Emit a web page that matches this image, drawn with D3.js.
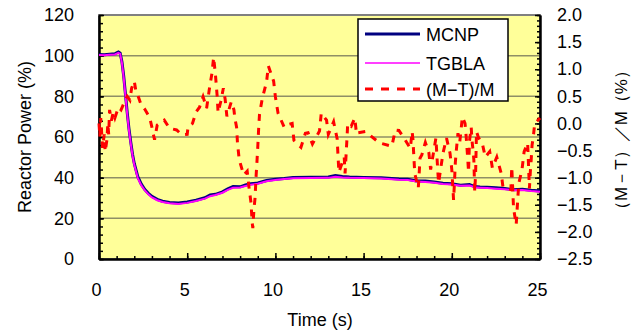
<!DOCTYPE html>
<html>
<head>
<meta charset="utf-8">
<script src="https://cdn.jsdelivr.net/npm/d3@7"></script>
<style>
body { margin: 0; background: #fff; }
svg text { font-family: "Liberation Sans", Arial, sans-serif; fill: #000; }
</style>
</head>
<body>
<div id="chart"></div>
<script>
// power curves (left axis, %)
var powerTime = [0, 0.3, 0.6, 0.9, 1.0, 1.1, 1.2, 1.3, 1.4, 1.5, 1.6, 1.7, 1.8, 1.9, 2.0, 2.2, 2.4, 2.6, 2.8, 3.0,
	3.3, 3.6, 4.0, 4.5, 5.0, 5.5, 6.0, 6.3, 6.6, 7.0, 7.3, 7.6, 8.0, 8.3, 8.6, 9.0, 9.5, 10.0, 10.5, 11.0,
	12.0, 13.0, 13.4, 13.8, 14.2, 15.0, 16.0, 17.0, 17.5, 18.0, 18.5, 19.0, 19.5, 20.0, 20.5, 21.0, 21.3, 21.6,
	22.0, 22.5, 23.0, 23.5, 24.0, 24.5, 25.0];
var mcnp = [100.6, 100.4, 100.7, 100.9, 101.4, 101.8, 101.2, 97, 90, 81, 72, 64, 57.5, 51.5, 47, 40.5, 36.8, 34.2, 32.3, 30.8,
	29.3, 28.4, 27.8, 27.5, 28.0, 28.9, 30.1, 31.5, 31.8, 33.0, 34.5, 35.6, 35.5, 36.4, 37.0, 37.4, 38.6, 39.2, 39.6, 40.1,
	40.2, 40.3, 41.0, 40.6, 40.3, 40.1, 39.9, 39.3, 39.2, 38.4, 38.3, 37.9, 37.3, 37.0, 36.3, 36.6, 35.6, 35.4,
	35.3, 35.0, 34.7, 34.1, 34.3, 33.8, 33.5];
var tgbla = [100.3, 100.2, 100.4, 100.6, 101.0, 101.4, 100.9, 96.5, 89.2, 80.2, 71.2, 63.2, 56.8, 50.8, 46.3, 39.8, 36.2, 33.7, 31.8, 30.3,
	28.9, 28.0, 27.4, 27.1, 27.6, 28.5, 29.7, 30.9, 31.5, 32.6, 34.0, 35.0, 35.2, 35.9, 36.5, 37.0, 38.2, 38.8, 39.3, 39.7,
	39.8, 39.9, 40.4, 40.1, 39.9, 39.8, 39.6, 39.0, 38.8, 38.1, 37.9, 37.5, 36.9, 36.6, 36.0, 36.1, 35.3, 35.1,
	34.9, 34.6, 34.3, 33.8, 33.9, 33.4, 33.1];

// (M-T)/M difference (right axis, %)
var diffTime = [0.00, 0.05, 0.10, 0.20, 0.30, 0.35, 0.45, 0.50, 0.55, 0.60, 0.70, 0.80, 0.90, 1.00, 1.10, 1.25, 1.45, 1.60, 1.75, 1.85,
	2.00, 2.10, 2.20, 2.35, 2.50, 2.60, 2.80, 2.90, 3.00, 3.05, 3.15, 3.30, 3.70, 4.00, 4.40, 4.70, 5.00, 5.05, 5.30, 5.50,
	5.70, 5.90, 6.10, 6.25, 6.40, 6.50, 6.60, 6.70, 6.75, 6.90, 7.05, 7.15, 7.25, 7.50, 7.65, 7.70, 7.80, 7.85, 7.95, 8.20,
	8.40, 8.50, 8.62, 8.68, 8.72, 8.78, 8.85, 8.90, 8.95, 9.00, 9.05, 9.10, 9.25, 9.50, 9.60, 9.90, 10.00, 10.15, 10.50, 10.60,
	10.95, 11.05, 11.45, 11.70, 11.85, 12.10, 12.50, 12.60, 12.90, 13.00, 13.30, 13.50, 13.55, 13.60, 13.90, 13.95, 14.05, 14.10, 14.30, 14.50,
	14.60, 14.70, 15.10, 15.90, 16.60, 16.80, 17.00, 17.25, 17.65, 17.75, 17.80, 17.85, 17.90, 18.10, 18.15, 18.20, 18.30, 18.50, 18.70, 18.80,
	19.10, 19.20, 19.25, 19.50, 19.70, 19.90, 20.00, 20.10, 20.15, 20.20, 20.25, 20.35, 20.45, 20.60, 20.75, 20.80, 20.85, 20.90, 20.95, 21.00,
	21.10, 21.15, 21.20, 21.25, 21.30, 21.35, 21.40, 21.50, 21.75, 21.90, 22.15, 22.30, 22.55, 22.80, 22.90, 23.35, 23.40, 23.50, 23.65, 23.75,
	23.80, 23.98, 24.10, 24.30, 24.40, 24.45, 24.50, 24.55, 24.62, 24.70, 24.80, 25.00];
var diffValue = [0.0, -0.25, 0.10, -0.45, -0.20, -0.52, -0.30, 0.00, -0.20, 0.25, 0.05, 0.20, 0.10, 0.20, 0.30, 0.25, 0.40, 0.50, 0.43, 0.65,
	0.78, 0.58, 0.52, 0.38, 0.30, 0.26, 0.15, 0.07, -0.07, -0.16, -0.30, -0.03, 0.06, -0.09, -0.12, -0.21, -0.20, -0.06, 0.00, 0.21,
	0.30, 0.49, 0.28, 0.62, 0.92, 1.22, 0.90, 0.50, 0.20, 0.40, 0.65, 0.45, 0.13, 0.40, 0.25, 0.10, -0.07, -0.36, -0.67, -0.95,
	-0.88, -1.17, -1.47, -1.82, -1.93, -1.60, -1.36, -1.00, -0.73, -0.44, -0.10, 0.17, 0.45, 0.77, 1.06, 0.78, 0.49, 0.19, -0.07, -0.03,
	0.00, -0.31, -0.44, -0.18, -0.17, -0.38, -0.14, 0.19, 0.06, -0.20, 0.03, -0.28, -0.60, -0.90, -0.62, -0.92, -0.32, 0.00, -0.05, 0.10,
	-0.20, -0.17, -0.15, -0.36, -0.42, -0.12, -0.13, -0.25, -0.46, -0.15, -0.30, -0.62, -0.92, -1.19, -0.92, -0.64, -0.58, -0.35, -0.54, -0.85,
	-0.27, -0.85, -1.10, -0.55, -0.27, -0.55, -0.85, -1.41, -1.10, -0.72, -0.52, -0.18, -0.35, 0.12, 0.00, -0.18, -0.40, -0.64, -0.90, -0.33,
	-0.07, -0.33, -0.48, -0.67, -1.26, -0.92, -0.15, -0.25, -0.40, -0.62, -0.52, -0.82, -0.62, -0.92, -1.17, -1.22, -0.80, -1.56, -1.87, -1.34,
	-1.10, -0.85, -0.52, -0.36, -1.20, -0.90, -0.67, -0.40, -0.25, 0.00, 0.03, 0.10];

var xTicks = [0, 5, 10, 15, 20, 25];
var leftTicks = [0, 20, 40, 60, 80, 100, 120];
var rightTicks = [-2.5, -2.0, -1.5, -1.0, -0.5, 0.0, 0.5, 1.0, 1.5, 2.0];
var legendNames = ['MCNP', 'TGBLA', '(M\u2212T)/M'];

var width = 637, height = 334;
var plotLeft = 99, plotRight = 540, plotTop = 15, plotBottom = 259;

var svg = d3.select('#chart')
	.append('svg')
	.attr('width', width)
	.attr('height', height);

var x = d3.scaleLinear().domain([0, 25]).range([plotLeft, plotRight]);
var yPow = d3.scaleLinear().domain([0, 120]).range([plotBottom, plotTop]);
var yDiff = d3.scaleLinear().domain([-2.5, 2.0]).range([plotBottom, plotTop]);

// plot area
svg.append('rect')
	.attr('x', plotLeft).attr('y', plotTop)
	.attr('width', plotRight - plotLeft).attr('height', plotBottom - plotTop)
	.attr('fill', '#ffff99')
	.attr('stroke', '#808080')
	.attr('stroke-width', 2);

// gridlines
svg.append('g')
	.selectAll('line')
	.data(leftTicks.slice(1, -1))
	.enter().append('line')
	.attr('x1', plotLeft).attr('x2', plotRight)
	.attr('y1', function(d) { return yPow(d); })
	.attr('y2', function(d) { return yPow(d); })
	.attr('stroke', '#8f8f66')
	.attr('stroke-width', 1.5);

function styleAxis(g) {
	g.select('.domain').attr('stroke', '#000').attr('stroke-width', 2);
	g.selectAll('.tick line').attr('stroke', '#000').attr('stroke-width', 1.5);
	g.selectAll('text').attr('font-size', 18).attr('font-family', '"Liberation Sans", Arial, sans-serif');
}

// minor ticks
svg.append('g')
	.attr('transform', 'translate(' + plotLeft + ',0)')
	.call(d3.axisLeft(yPow).tickValues(d3.range(0, 121, 4)).tickSize(-4).tickSizeOuter(0).tickFormat(''))
	.call(styleAxis);
svg.append('g')
	.attr('transform', 'translate(0,' + plotBottom + ')')
	.call(d3.axisBottom(x).tickValues(d3.range(0, 26, 1)).tickSize(-3).tickSizeOuter(0).tickFormat(''))
	.call(styleAxis);
svg.append('g')
	.attr('transform', 'translate(' + plotRight + ',0)')
	.call(d3.axisRight(yDiff).tickValues(d3.range(-25, 21, 1).map(function(d) { return d / 10; })).tickSize(-3).tickSizeOuter(0).tickFormat(''))
	.call(styleAxis);

// major axes
svg.append('g')
	.attr('transform', 'translate(' + plotLeft + ',0)')
	.call(d3.axisLeft(yPow).tickValues(leftTicks).tickSize(-5).tickSizeOuter(0).tickPadding(25))
	.call(styleAxis);

var xAxis = svg.append('g')
	.attr('transform', 'translate(0,' + plotBottom + ')')
	.call(d3.axisBottom(x).tickValues(xTicks).tickSize(-6).tickSizeOuter(0).tickPadding(24))
	.call(styleAxis);
xAxis.selectAll('text').attr('dx', -3);

svg.append('g')
	.attr('transform', 'translate(' + plotRight + ',0)')
	.call(d3.axisRight(yDiff).tickValues(rightTicks).tickSize(-5).tickSizeOuter(0).tickPadding(17).tickFormat(d3.format('.1f')))
	.call(styleAxis);

// axis titles
svg.append('text')
	.attr('x', 320).attr('y', 326)
	.attr('text-anchor', 'middle')
	.attr('font-size', 18)
	.text('Time (s)');

svg.append('text')
	.attr('transform', 'translate(31,137) rotate(-90)')
	.attr('text-anchor', 'middle')
	.attr('font-size', 18)
	.text('Reactor Power (%)');

svg.append('text')
	.attr('transform', 'translate(627,140) rotate(-90)')
	.attr('text-anchor', 'middle')
	.attr('font-size', 17)
	.attr('font-family', '"Noto Sans CJK JP", sans-serif')
	.text('（M－T）／M（%）');

// series
var powLine = d3.line()
	.x(function(d) { return x(d[0]); })
	.y(function(d) { return yPow(d[1]); });
var diffLine = d3.line()
	.x(function(d) { return x(d[0]); })
	.y(function(d) { return yDiff(d[1]); });

svg.append('path')
	.datum(d3.zip(powerTime, mcnp))
	.attr('d', powLine)
	.attr('fill', 'none')
	.attr('stroke', '#000080')
	.attr('stroke-width', 3);

svg.append('path')
	.datum(d3.zip(powerTime, tgbla))
	.attr('d', powLine)
	.attr('fill', 'none')
	.attr('stroke', '#ff00ff')
	.attr('stroke-width', 2);

svg.append('path')
	.datum(d3.zip(diffTime, diffValue))
	.attr('d', diffLine)
	.attr('fill', 'none')
	.attr('stroke', '#ff0000')
	.attr('stroke-width', 3)
	.attr('stroke-dasharray', '7,7');

// legend
var legend = svg.append('g');
legend.append('rect')
	.attr('x', 358).attr('y', 19)
	.attr('width', 150).attr('height', 82)
	.attr('fill', '#fff')
	.attr('stroke', '#000')
	.attr('stroke-width', 1.5);

var legendStyles = [
	{ color: '#000080', w: 3, dash: null, y: 34 },
	{ color: '#ff00ff', w: 1.5, dash: null, y: 63 },
	{ color: '#ff0000', w: 3, dash: '8,8', y: 89 }
];
legendNames.forEach(function(name, i) {
	var s = legendStyles[i];
	legend.append('line')
		.attr('x1', 365).attr('x2', 420)
		.attr('y1', s.y).attr('y2', s.y)
		.attr('stroke', s.color)
		.attr('stroke-width', s.w)
		.attr('stroke-dasharray', s.dash);
	legend.append('text')
		.attr('x', 426).attr('y', s.y + 7)
		.attr('font-size', 18)
		.text(name);
});
</script>
</body>
</html>
